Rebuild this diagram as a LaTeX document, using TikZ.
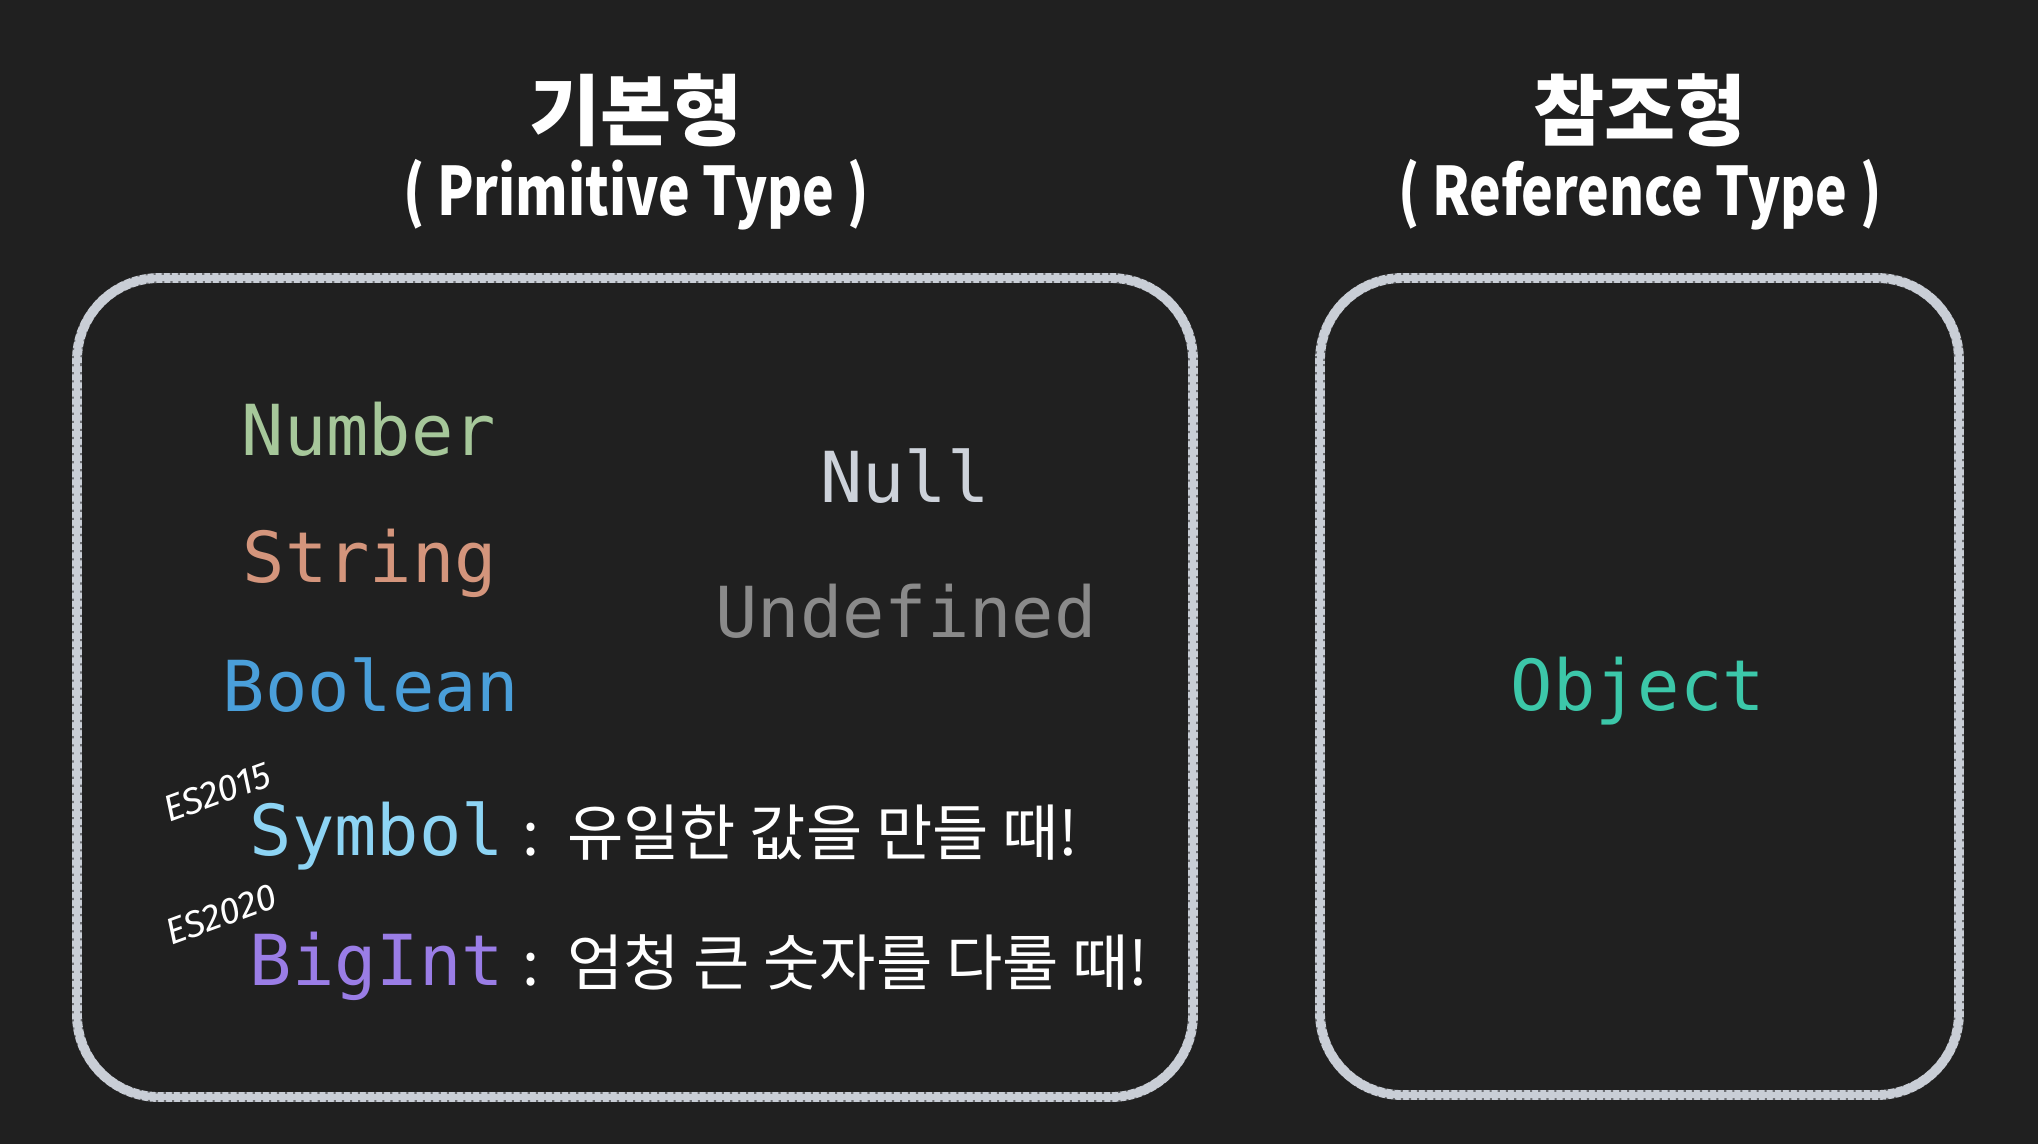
\documentclass[tikz,border=0pt]{standalone}
\usepackage{fontspec}
\newfontfamily\kr{Noto Sans CJK KR}
\newfontfamily\monof{DejaVu Sans Mono}
\newfontfamily\handf{Fira Sans}
\definecolor{bgc}{HTML}{202020}
\definecolor{chalk}{HTML}{C9CED6}
\definecolor{cnum}{HTML}{A6C79A}
\definecolor{cstr}{HTML}{D4957C}
\definecolor{cbool}{HTML}{4A9FDA}
\definecolor{cnull}{HTML}{CDD2DA}
\definecolor{cundef}{HTML}{8A8A8A}
\definecolor{csym}{HTML}{8DD4F4}
\definecolor{cbig}{HTML}{9A7DE6}
\definecolor{cobj}{HTML}{3CC7A9}
\tikzset{
  chalkbox/.style={draw=chalk, line width=2.8pt, rounded corners=0.82cm},
  chalkspeck/.style={draw=bgc, draw opacity=0.55, line width=0.5pt, dash pattern=on 0.6pt off 1.7pt, rounded corners=0.82cm},
  title/.style={text=white, font=\kr\bfseries\fontsize{22}{24}\selectfont, inner sep=0pt},
  subtitle/.style={text=white, font=\kr\bfseries\fontsize{19}{21}\selectfont, inner sep=0pt},
  code/.style={font=\monof\fontsize{20}{22}\selectfont, inner sep=0pt},
  note/.style={text=white, font=\kr\fontsize{17.4}{19}\selectfont, inner sep=0pt, anchor=west},
  es/.style={text=white, font=\handf\itshape\fontsize{10.5}{11}\selectfont, inner sep=0pt, rotate=20},
}
\begin{document}
\begin{tikzpicture}[x=0.01cm, y=-0.01cm]
\fill[bgc] (0,0) rectangle (2038,1144);
\useasboundingbox (0,0) rectangle (2038,1144);
% boxes
\draw[chalkbox] (77,278) rectangle (1193,1097);
\draw[chalkspeck] (73,274) rectangle (1197,1101);
\draw[chalkspeck] (81,282) rectangle (1189,1093);
\draw[chalkbox] (1320,278) rectangle (1959,1095);
\draw[chalkspeck] (1316,274) rectangle (1963,1099);
\draw[chalkspeck] (1324,282) rectangle (1955,1091);
% titles
\node[title] (t1) at (636,110) {기본형};
\node[subtitle] (s1) at (636,195) {\scalebox{0.80}[1]{( Primitive Type )}};
\node[title] (t2) at (1640,110) {참조형};
\node[subtitle] (s2) at (1640,195) {\scalebox{0.80}[1]{( Reference Type )}};
% primitive types
\node[code, text=cnum] (num) at (369,429) {Number};
\node[code, text=cstr] (str) at (370,563) {String};
\node[code, text=cbool] (bool) at (371,685) {Boolean};
\node[code, text=cnull] (null) at (905,476) {Null};
\node[code, text=cundef] (undef) at (906,611) {Undefined};
\node[code, text=csym, anchor=base west] (sym) at (249,855) {Symbol};
\node[code, text=cbig, anchor=base west] (big) at (249,985) {BigInt};
\node[es] (es1) at (217,792) {ES2015};
\node[es] (es2) at (221,914) {ES2020};
\node[note, anchor=base west] (n1) at (522,855) {:\hspace{0.45em}유일한 값을 만들 때!};
\node[note, anchor=base west] (n2) at (522,985) {:\hspace{0.45em}엄청 큰 숫자를 다룰 때!};
% reference type
\node[code, text=cobj] (obj) at (1638,691) {Object};
\end{tikzpicture}
\end{document}
